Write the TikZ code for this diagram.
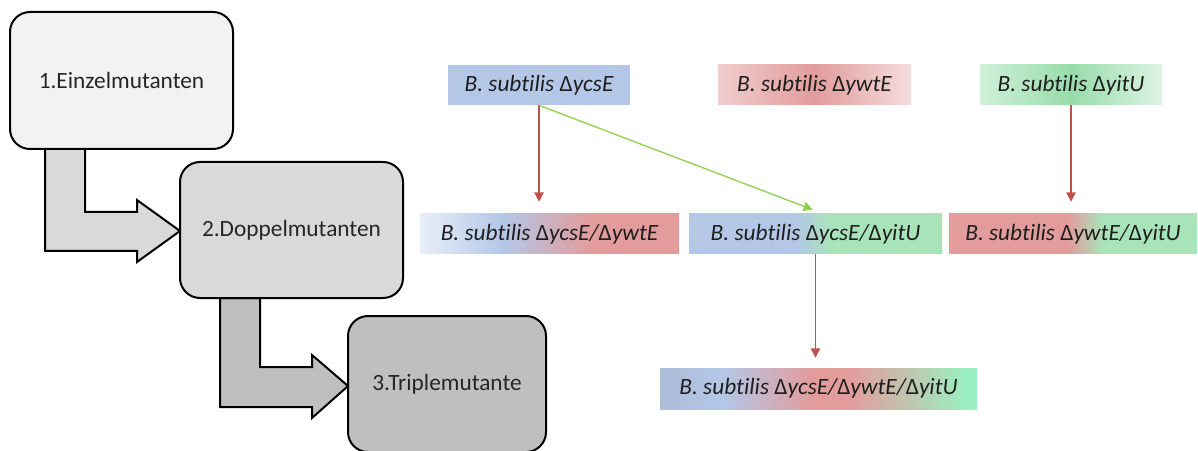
\documentclass[tikz,border=0pt]{standalone}
\usepackage{fontspec}
\setmainfont{Carlito}[Ligatures=NoCommon]
\usetikzlibrary{arrows.meta}

\definecolor{bl}{HTML}{B4C7E7}
\definecolor{rd}{HTML}{E29C9C}
\definecolor{gn}{HTML}{A9E3BA}
\definecolor{gm}{HTML}{98DCAA}
\definecolor{mint}{HTML}{9CEFC0}

% shadings for the mixed mutants (path is mapped to 25bp..75bp)
\pgfdeclarehorizontalshading{csywt}{100bp}{color(0bp)=(bl!30!white); color(25bp)=(bl!30!white); color(41bp)=(bl); color(58bp)=(rd); color(100bp)=(rd)}
\pgfdeclarehorizontalshading{csyit}{100bp}{color(0bp)=(bl); color(25bp)=(bl); color(46bp)=(bl); color(53bp)=(gn); color(100bp)=(gn)}
\pgfdeclarehorizontalshading{wtyit}{100bp}{color(0bp)=(rd); color(25bp)=(rd); color(49bp)=(rd); color(56bp)=(gn); color(100bp)=(gn)}
\pgfdeclarehorizontalshading{triple}{100bp}{color(0bp)=(bl!85!gray); color(25bp)=(bl!85!gray); color(35bp)=(bl); color(49bp)=(rd); color(55bp)=(rd); color(73bp)=(mint); color(100bp)=(mint)}

\begin{document}
\begin{tikzpicture}[x=0.75pt, y=0.75pt, font=\fontsize{17.5}{21}\selectfont]
  \definecolor{arr}{HTML}{C0504D}
  \definecolor{arg}{HTML}{92D050}
  \tikzset{
    stage/.style={draw=black, line width=1.5pt, rounded corners=15pt, inner sep=0pt, text=black!85},
    bent/.style={draw=black, line width=1.5pt, miter limit=4},
    mutant/.style={inner sep=0pt, minimum height=30pt, text=black!88, font=\fontsize{17.5}{21}\selectfont\itshape},
    conn/.style={draw=arr, line width=1pt, -{Triangle[length=7pt, width=7pt]}}
  }
  \useasboundingbox (0,0) rectangle (1198,450);

  % bent arrows between the stages
  \draw [bent, fill=black!15] (45,301) -- (45,199) -- (137,199) -- (137,188) -- (180,219)
    -- (137,250) -- (137,238) -- (85,238) -- (85,301) -- cycle;
  \draw [bent, fill=black!25] (220,152) -- (220,43) -- (312,43) -- (312,32) -- (348,64)
    -- (312,95) -- (312,83) -- (260,83) -- (260,152) -- cycle;

  % stages
  \node (einzel) at (121.5,369.5) [stage, fill=black!5, minimum width=167.25pt, minimum height=102.75pt] {1.Einzelmutanten};
  \node (doppel) at (291.5,220) [stage, fill=black!15, minimum width=167.25pt, minimum height=102pt] {2.Doppelmutanten};
  \node (triplet) at (447,66) [stage, fill=black!25, minimum width=148.5pt, minimum height=102pt] {3.Triplemutante};

  % single mutants
  \node (ycs) at (539,365) [mutant, fill=bl, minimum width=136.5pt] {B. subtilis {\upshape Δ}ycsE};
  \node (ywt) at (814.5,365) [mutant, left color=rd!50!white, right color=rd!35!white, middle color=rd, minimum width=144.75pt] {B. subtilis {\upshape Δ}ywtE};
  \node (yit) at (1071,365) [mutant, left color=gn!55!white, right color=gn!40!white, middle color=gm, minimum width=136.5pt] {B. subtilis {\upshape Δ}yitU};

  % double mutants
  \node (ycsywt) at (549.5,216) [mutant, shading=csywt, minimum width=194.25pt] {B. subtilis {\upshape Δ}ycsE/{\upshape Δ}ywtE};
  \node (ycsyit) at (815.5,216) [mutant, shading=csyit, minimum width=189.75pt] {B. subtilis {\upshape Δ}ycsE/{\upshape Δ}yitU};
  \node (ywtyit) at (1073,216) [mutant, shading=wtyit, minimum width=186pt] {B. subtilis {\upshape Δ}ywtE/{\upshape Δ}yitU};

  % triple mutant
  \node (all) at (818.5,61.5) [mutant, shading=triple, minimum width=237.75pt, minimum height=30.75pt] {B. subtilis {\upshape Δ}ycsE/{\upshape Δ}ywtE/{\upshape Δ}yitU};

  \draw [conn] (ycs.south) -- ([yshift=9pt]ycs.south |- ycsywt.north);
  \draw [conn, draw=arg] (ycs.south) -- ([xshift=-2pt, yshift=3pt]ycsyit.north);
  \draw [conn] (yit.south) -- ([yshift=9pt]yit.south |- ywtyit.north);
  \draw [conn] (ycsyit.south) -- ([yshift=7.5pt]ycsyit.south |- all.north);
\end{tikzpicture}
\end{document}
